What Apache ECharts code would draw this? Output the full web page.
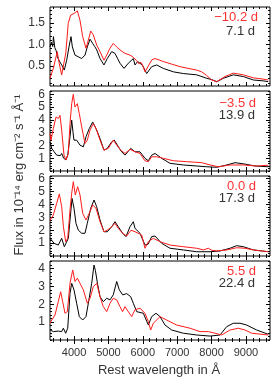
<!DOCTYPE html>
<html><head><meta charset="utf-8">
<script src="https://cdn.jsdelivr.net/npm/echarts@6/dist/echarts.min.js"></script>
<style>html,body{margin:0;padding:0;background:#fff}#c{width:273px;height:387px}</style>
</head><body><div id="c"></div>
<script>
// ---- data: [rest wavelength (Å), flux (1e-14 erg cm^-2 s^-1 Å^-1)] ----
const r1 = [[3300,0.21],[3400,0.45],[3510,0.83],[3570,0.55],[3640,0.29],[3690,0.26],[3760,0.8],[3830,1.49],[3900,1.68],[3950,1.66],[4000,1.72],[4095,1.78],[4173,1.56],[4250,1.18],[4347,0.91],[4415,1.1],[4485,1.31],[4560,1.22],[4660,0.98],[4755,0.83],[4870,0.63],[4950,0.75],[5045,0.91],[5140,1.02],[5240,0.94],[5336,0.87],[5480,0.79],[5627,0.75],[5720,0.7],[5820,0.62],[5880,0.55],[5950,0.58],[6000,0.5],[6064,0.36],[6150,0.48],[6260,0.64],[6355,0.67],[6596,0.6],[7082,0.48],[7568,0.40],[7713,0.36],[7850,0.28],[8004,0.17],[8150,0.13],[8391,0.25],[8633,0.33],[8924,0.29],[9215,0.22],[9500,0.19],[9650,0.17]];
const k1 = [[3300,0.94],[3340,1.05],[3380,0.95],[3400,1.18],[3440,0.92],[3480,0.85],[3512,0.71],[3580,0.6],[3640,0.52],[3716,0.4],[3785,0.63],[3853,0.94],[3911,1.18],[3950,0.94],[4027,0.75],[4080,0.78],[4124,0.71],[4180,0.74],[4222,0.67],[4318,0.75],[4385,0.94],[4464,1.12],[4542,1.02],[4600,0.95],[4660,0.87],[4755,0.67],[4870,0.52],[4967,0.67],[5095,0.83],[5190,0.79],[5260,0.68],[5336,0.56],[5453,0.44],[5578,0.56],[5724,0.67],[5773,0.52],[5850,0.6],[5918,0.56],[6000,0.5],[6113,0.32],[6258,0.48],[6404,0.52],[6500,0.48],[6596,0.44],[6887,0.36],[7178,0.32],[7568,0.29],[7858,0.21],[8000,0.18],[8150,0.13],[8342,0.21],[8633,0.29],[8924,0.25],[9215,0.17],[9500,0.15],[9650,0.13]];
const r2 = [[3300,2.93],[3330,2.4],[3397,3.32],[3475,4.22],[3542,4.1],[3591,4.35],[3640,3.19],[3707,1.24],[3765,0.86],[3833,1.37],[3882,3.71],[3931,5.26],[3978,5.99],[4027,5.0],[4095,5.26],[4152,4.49],[4222,3.45],[4318,2.15],[4385,2.41],[4464,3.19],[4560,3.71],[4658,3.19],[4755,2.41],[4870,1.63],[4996,1.77],[5142,2.41],[5240,2.02],[5356,1.63],[5482,1.37],[5627,1.7],[5773,1.5],[5918,1.37],[6064,0.8],[6160,0.73],[6258,1.11],[6404,1.11],[6596,0.99],[6887,0.8],[7275,0.73],[7713,0.65],[7955,0.47],[8197,0.33],[8537,0.47],[8924,0.47],[9312,0.39],[9650,0.45]];
const k2 = [[3300,2.28],[3350,1.77],[3420,1.5],[3494,1.24],[3540,1.11],[3600,1.2],[3640,1.37],[3700,0.99],[3765,0.86],[3815,1.24],[3882,2.67],[3931,3.97],[3970,3.0],[3998,2.41],[4075,2.41],[4173,2.02],[4270,1.89],[4347,2.67],[4443,3.32],[4542,3.83],[4638,3.32],[4755,2.54],[4870,1.63],[4967,1.77],[5095,2.28],[5170,2.41],[5260,2.02],[5385,1.5],[5482,1.24],[5647,1.77],[5700,1.89],[5773,1.5],[5918,1.5],[6064,0.99],[6160,0.8],[6258,1.24],[6355,1.37],[6549,0.99],[6791,0.6],[7178,0.47],[7568,0.39],[7858,0.33],[8150,0.29],[8440,0.47],[8682,0.65],[8973,0.54],[9264,0.39],[9650,0.33]];
const r3 = [[3300,2.75],[3397,3.18],[3494,4.08],[3571,4.81],[3640,3.82],[3690,2.27],[3756,1.11],[3815,1.37],[3882,3.57],[3931,4.86],[3978,5.76],[4036,4.73],[4105,5.37],[4173,4.73],[4250,3.31],[4347,2.79],[4443,3.31],[4542,3.95],[4638,3.7],[4755,2.66],[4870,1.88],[4967,2.0],[5095,2.27],[5190,2.53],[5287,2.14],[5414,1.76],[5530,1.55],[5656,2.0],[5773,1.88],[5820,1.88],[5967,1.63],[6064,0.6],[6160,1.11],[6306,1.37],[6500,1.11],[6791,0.85],[7178,0.72],[7568,0.6],[7762,0.47],[7907,0.6],[8000,0.45],[8150,0.39],[8440,0.47],[8730,0.64],[8973,0.6],[9215,0.47],[9650,0.33]];
const k3 = [[3300,1.37],[3350,1.24],[3420,0.98],[3540,0.85],[3640,1.37],[3716,0.72],[3765,0.6],[3833,1.37],[3882,2.79],[3940,4.47],[3998,3.7],[4056,2.53],[4124,2.0],[4222,1.76],[4318,1.76],[4385,2.53],[4485,3.7],[4580,4.34],[4658,3.82],[4755,2.79],[4870,1.88],[4967,1.88],[5095,2.27],[5190,2.66],[5287,2.27],[5414,1.76],[5510,1.5],[5627,2.27],[5724,2.66],[5773,2.14],[5918,1.76],[6064,0.85],[6150,0.9],[6258,1.5],[6355,1.55],[6549,0.98],[6791,0.6],[7178,0.47],[7568,0.33],[7955,0.33],[8246,0.39],[8537,0.6],[8730,0.8],[8924,0.72],[9215,0.47],[9650,0.33]];
const r4 = [[3300,0.94],[3350,1.12],[3445,1.4],[3540,2.15],[3610,2.71],[3669,2.15],[3736,1.5],[3804,1.59],[3882,3.18],[3960,3.93],[4027,3.28],[4095,3.47],[4173,3.18],[4270,2.81],[4385,2.06],[4464,2.34],[4560,2.99],[4660,3.18],[4755,2.43],[4850,1.87],[4950,1.59],[5045,2.06],[5140,2.34],[5240,2.25],[5336,1.87],[5410,1.59],[5482,1.87],[5578,1.59],[5676,1.31],[5773,1.7],[5918,1.78],[6064,1.5],[6160,1.03],[6229,0.56],[6306,0.94],[6500,1.31],[6694,1.12],[6985,0.84],[7373,0.66],[7664,0.47],[7907,0.47],[8100,0.38],[8294,0.28],[8537,0.56],[8779,0.66],[8973,0.56],[9167,0.38],[9650,0.28]];
const k4 = [[3300,0.56],[3400,0.47],[3540,0.5],[3640,0.47],[3688,0.66],[3756,0.38],[3815,0.66],[3882,2.62],[3931,3.18],[3998,2.81],[4075,2.06],[4152,1.31],[4250,1.12],[4347,1.31],[4415,2.06],[4513,3.18],[4580,4.2],[4620,3.9],[4680,3.18],[4755,2.43],[4850,2.15],[4950,2.34],[5045,2.25],[5140,2.53],[5240,3.28],[5316,2.81],[5414,2.53],[5530,2.6],[5647,2.43],[5724,2.06],[5822,1.59],[6015,1.5],[6160,0.84],[6258,1.31],[6384,1.5],[6500,1.31],[6645,0.84],[6840,0.56],[7178,0.38],[7568,0.28],[7955,0.22],[8246,0.28],[8440,0.75],[8633,0.94],[8827,0.94],[9020,0.84],[9312,0.56],[9650,0.32]];

const redSeries = [r1, r2, r3, r4];
const blackSeries = [k1, k2, k3, k4];
const redEpochs = ['\u221210.2 d', '\u22123.5 d', '0.0 d', '5.5 d'];
const blackEpochs = ['7.1 d', '13.9 d', '17.3 d', '22.4 d'];
const xTickLabels = [4000, 5000, 6000, 7000, 8000, 9000];
const yTickLabels = [[0.5, 1.0, 1.5], [1, 2, 3, 4, 5, 6], [1, 2, 3, 4, 5, 6], [1, 2, 3, 4]];
const yMinorStep = [0.1, 0.2, 0.2, 0.2];
const yMin = [0.03, 0, 0, 0];
const yMax = [1.87, 6.25, 6.2, 4.43];
const xMin = 3300, xMax = 9700, xMinorStep = 200;

// ---- layout ----
const gridTop = [7, 91, 176, 261];
const gridH = [79, 80, 80, 79];
const redText = [17, 103, 186, 271];
const blackText = [31, 115, 198, 283];
const FONT = 'Liberation Sans, Arial, sans-serif';

function range(a, b, s) { const o = []; for (let v = a; v <= b + 1e-9; v += s) o.push(+v.toFixed(4)); return o; }
const xMinor = range(3400, 9600, xMinorStep);

const grids = [], xAxes = [], yAxes = [], series = [], graphic = [];
for (let i = 0; i < 4; i++) {
  grids.push({ left: 50, top: gridTop[i], width: 220, height: gridH[i], show: true,
    borderColor: '#000', borderWidth: 1, backgroundColor: 'transparent' });
  const xb = { gridIndex: i, type: 'value', min: xMin, max: xMax, axisLine: { show: false }, splitLine: { show: false } };
  const tick = (vals, len) => ({ show: true, inside: true, length: len, customValues: vals, lineStyle: { color: '#000', width: 1 } });
  ['bottom', 'top'].forEach(pos => {
    xAxes.push(Object.assign({}, xb, { position: pos, axisTick: tick(xTickLabels, 4),
      axisLabel: (pos === 'bottom' && i === 3) ? { show: true, customValues: xTickLabels, margin: 7,
        fontFamily: FONT, fontSize: 11, color: '#333', formatter: v => String(v) } : { show: false } }));
    xAxes.push(Object.assign({}, xb, { position: pos, axisTick: tick(xMinor, 2), axisLabel: { show: false } }));
  });
  const yMinor = range(Math.ceil(yMin[i] / yMinorStep[i] - 1e-9) * yMinorStep[i], yMax[i], yMinorStep[i]);
  const yb = { gridIndex: i, type: 'value', min: yMin[i], max: yMax[i], axisLine: { show: false }, splitLine: { show: false } };
  ['left', 'right'].forEach(pos => {
    yAxes.push(Object.assign({}, yb, { position: pos, axisTick: tick(yTickLabels[i], 4),
      axisLabel: pos === 'left' ? { show: true, customValues: yTickLabels[i], margin: 5,
        fontFamily: FONT, fontSize: 12, color: '#333',
        formatter: v => i === 0 ? v.toFixed(1) : String(v) } : { show: false } }));
    yAxes.push(Object.assign({}, yb, { position: pos, axisTick: tick(yMinor, 2), axisLabel: { show: false } }));
  });
  series.push({ type: 'line', xAxisIndex: 4 * i, yAxisIndex: 4 * i, data: blackSeries[i], showSymbol: false,
    lineStyle: { color: '#000', width: 1 }, silent: true, z: 2 });
  series.push({ type: 'line', xAxisIndex: 4 * i, yAxisIndex: 4 * i, data: redSeries[i], showSymbol: false,
    lineStyle: { color: '#ff1a1a', width: 1 }, silent: true, z: 3 });
  graphic.push({ type: 'text', x: i === 0 ? 258 : 256, y: redText[i],
    style: { text: redEpochs[i], fill: '#ff3333', font: '13px ' + FONT, align: 'right', verticalAlign: 'middle' } });
  graphic.push({ type: 'text', x: 255, y: blackText[i],
    style: { text: blackEpochs[i], fill: '#333', font: '13px ' + FONT, align: 'right', verticalAlign: 'middle' } });
}
graphic.push({ type: 'text', x: 19, y: 175, rotation: Math.PI / 2,
  style: { text: 'Flux in 10\u207B\u00B9\u2074 erg cm\u207B\u00B2 s\u207B\u00B9 \u00C5\u207B\u00B9', fill: '#333',
    font: '13px ' + FONT, align: 'center', verticalAlign: 'middle' } });
graphic.push({ type: 'text', x: 159, y: 370,
  style: { text: 'Rest wavelength in \u00C5', fill: '#333', font: '13px ' + FONT, align: 'center', verticalAlign: 'middle' } });

const chart = echarts.init(document.getElementById('c'), null, { renderer: 'canvas' });
chart.setOption({ animation: false, backgroundColor: '#fff', grid: grids, xAxis: xAxes, yAxis: yAxes, series, graphic });
</script></body></html>
